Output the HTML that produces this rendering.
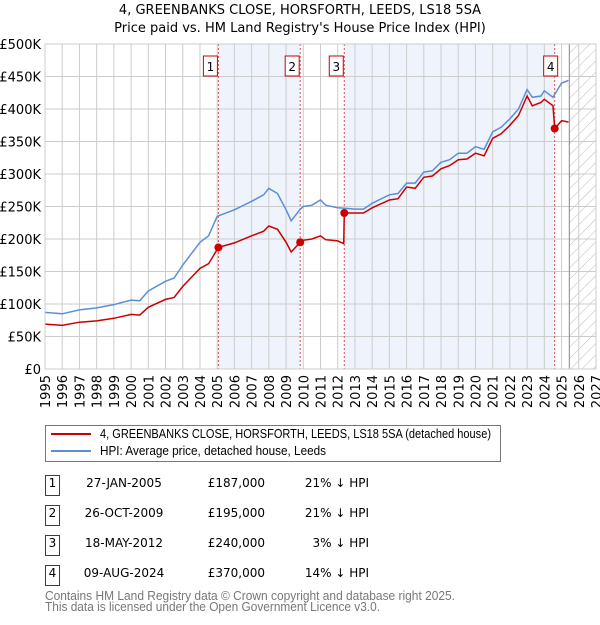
<!DOCTYPE html>
<html><head><meta charset="utf-8"><style>
body{margin:0;background:#fff;font-family:"Liberation Sans","DejaVu Sans",sans-serif;}
svg text{font-family:"DejaVu Sans","Liberation Sans",sans-serif;}
svg text.lib{font-family:"Liberation Sans","DejaVu Sans",sans-serif;}
</style></head><body>
<svg width="600" height="620" viewBox="0 0 600 620" xmlns="http://www.w3.org/2000/svg">
<defs>
<pattern id="hatch" width="8" height="8" patternUnits="userSpaceOnUse" patternTransform="rotate(45)">
<line x1="0" y1="0" x2="0" y2="8" stroke="#bbb" stroke-width="1"/>
</pattern>
</defs>
<text x="300" y="14" text-anchor="middle" font-size="13" fill="#000">4, GREENBANKS CLOSE, HORSFORTH, LEEDS, LS18 5SA</text>
<text x="300" y="32" text-anchor="middle" font-size="13" fill="#000">Price paid vs. HM Land Registry's House Price Index (HPI)</text>
<g id="plot"></g>
<g id="legend">
<rect x="45.5" y="425.5" width="455" height="36" fill="#fff" stroke="#777"/>
<line x1="51" y1="434" x2="91" y2="434" stroke="#cc0000" stroke-width="2"/>
<text class="lib" x="100" y="438" font-size="13" textLength="391" lengthAdjust="spacingAndGlyphs">4, GREENBANKS CLOSE, HORSFORTH, LEEDS, LS18 5SA (detached house)</text>
<line x1="51" y1="451" x2="91" y2="451" stroke="#5b8fd4" stroke-width="2"/>
<text class="lib" x="100" y="455" font-size="13" textLength="226" lengthAdjust="spacingAndGlyphs">HPI: Average price, detached house, Leeds</text>
</g>
<g id="table"></g>
<text class="lib" x="45" y="600" font-size="13" fill="#777" textLength="410" lengthAdjust="spacingAndGlyphs">Contains HM Land Registry data © Crown copyright and database right 2025.</text>
<text class="lib" x="45" y="611" font-size="13" fill="#777" textLength="335" lengthAdjust="spacingAndGlyphs">This data is licensed under the Open Government Licence v3.0.</text>
</svg>
<script>
const hpiYears=[1995,1996,1997,1998,1999,2000,2000.5,2001,2002,2002.5,2003,2004,2004.5,2005,2006,2007,2007.7,2008,2008.5,2009,2009.3,2009.8,2010,2010.5,2011,2011.3,2012,2012.5,2013,2013.5,2014,2015,2015.5,2016,2016.5,2017,2017.5,2018,2018.5,2019,2019.5,2020,2020.5,2021,2021.5,2022,2022.5,2023,2023.3,2023.8,2024,2024.5,2025,2025.4];
const hpiValues=[87,85,91,94,99,106,105,120,135,140,160,195,205,235,245,258,268,278,270,245,228,245,250,252,260,252,248,247,246,246,255,268,270,286,286,303,305,318,322,332,332,342,338,365,372,385,400,430,418,420,428,418,440,444];
const redYears=[1995,1996,1997,1998,1999,2000,2000.5,2001,2002,2002.5,2003,2004,2004.5,2005.07,2006,2007,2007.7,2008,2008.5,2009,2009.3,2009.82,2010,2010.5,2011,2011.3,2012,2012.35,2012.38,2013,2013.5,2014,2015,2015.5,2016,2016.5,2017,2017.5,2018,2018.5,2019,2019.5,2020,2020.5,2021,2021.5,2022,2022.5,2023,2023.3,2023.8,2024,2024.5,2024.6,2025,2025.4];
const redValues=[69,67,72,74,78,84,83,95,107,110,127,155,162,187,194,205,212,220,215,195,180,195,198,200,205,199,197,193,240,240,240,248,260,262,280,278,295,297,308,313,322,323,332,328,355,362,375,390,420,405,410,415,405,370,382,380];
const saleYears=[2005.07,2009.82,2012.38,2024.6];
const salePrices=[187,195,240,370];
const saleLabels=["1","2","3","4"];
const saleDates=["27-JAN-2005","26-OCT-2009","18-MAY-2012","09-AUG-2024"];
const salePriceText=["£187,000","£195,000","£240,000","£370,000"];
const saleDiff=["21% ↓ HPI","21% ↓ HPI","3% ↓ HPI","14% ↓ HPI"];
const yTicks=[0,50,100,150,200,250,300,350,400,450,500];
const yTickLabels=["£0","£50K","£100K","£150K","£200K","£250K","£300K","£350K","£400K","£450K","£500K"];
const xTicks=[1995,1996,1997,1998,1999,2000,2001,2002,2003,2004,2005,2006,2007,2008,2009,2010,2011,2012,2013,2014,2015,2016,2017,2018,2019,2020,2021,2022,2023,2024,2025,2026,2027];

const NS="http://www.w3.org/2000/svg";
const X0=45,X1=596,Y0=369,Y1=44;
const xs=y=>X0+(y-1995)/(2027-1995)*(X1-X0);
const ys=v=>Y0-v/500*(Y0-Y1);
function mk(tag,attrs,parent){const e=document.createElementNS(NS,tag);for(const k in attrs)e.setAttribute(k,attrs[k]);parent.appendChild(e);return e;}
const plot=document.getElementById('plot');
const s1=mk('rect',{x:xs(saleYears[0]),y:Y1,width:xs(saleYears[1])-xs(saleYears[0]),height:Y0-Y1,fill:'#eef3fc'},plot);


const s2=mk('rect',{x:xs(saleYears[2]),y:Y1,width:xs(saleYears[3])-xs(saleYears[2]),height:Y0-Y1,fill:'#eef3fc'},plot);


const hx=xs(2025.45);
const h=mk('rect',{x:hx,y:Y1,width:X1-hx,height:Y0-Y1,fill:'url(#hatch)'},plot);


yTicks.forEach((t,i)=>{
 const l=mk('line',{x1:X0,x2:X1,y1:ys(t),y2:ys(t),stroke:'#ccc','stroke-width':1},plot);
 
 
 const tx=mk('text',{x:X0-4,y:ys(t)+5,'text-anchor':'end','font-size':13},plot);
 tx.textContent=yTickLabels[i];
 
 
});
xTicks.forEach(t=>{
 const l=mk('line',{x1:xs(t),x2:xs(t),y1:Y1,y2:Y0,stroke:'#ccc','stroke-width':1},plot);
 
 
 const tx=mk('text',{x:0,y:0,'text-anchor':'end','font-size':13,transform:`translate(${xs(t)+5},${Y0+6}) rotate(-90)`},plot);
 tx.textContent=t;
 
 
});
const vl=mk('line',{x1:hx,x2:hx,y1:Y1,y2:Y0,stroke:'#888','stroke-width':1},plot);


saleYears.forEach((y,i)=>{
 const l=mk('line',{x1:xs(y),x2:xs(y),y1:Y1,y2:Y0,stroke:'#e05050','stroke-width':1,'stroke-dasharray':'2,2'},plot);
 
 
});
function pts(xa,va){return xa.map((x,i)=>xs(x).toFixed(1)+','+ys(va[i]).toFixed(1)).join(' ');}
const hp=mk('polyline',{points:pts(hpiYears,hpiValues),fill:'none',stroke:'#5b8fd4','stroke-width':1.5},plot);


const rp=mk('polyline',{points:pts(redYears,redValues),fill:'none',stroke:'#cc0000','stroke-width':1.5},plot);


saleYears.forEach((y,i)=>{
 const c=mk('circle',{cx:xs(y),cy:ys(salePrices[i]),r:4,fill:'#cc0000'},plot);
 
 
 const bx=xs(y)-(i==3?4:8)-7;
 const b=mk('rect',{x:bx,y:56,width:14,height:20,fill:'#fff',stroke:'#cc0000'},plot);
 
 
 const t=mk('text',{x:bx+7,y:71,'text-anchor':'middle','font-size':12},plot);
 t.textContent=saleLabels[i];
 
 
});
const ax=mk('rect',{x:X0,y:Y1,width:X1-X0,height:Y0-Y1,fill:'none',stroke:'#ccc'},plot);


const tb=document.getElementById('table');
saleLabels.forEach((lab,i)=>{
 const top=475+i*30;
 const b=mk('rect',{x:45.5,y:top+0.5,width:14,height:20,fill:'#fff',stroke:'#cc0000'},tb);
 
 
 const t=[[52.5,'middle',lab,'table-index'],[124,'middle',saleDates[i],'table-date'],[265,'end',salePriceText[i],'table-price'],[369,'end',saleDiff[i],'table-hpi-diff']];
 t.forEach(a=>{const e=mk('text',{x:a[0],y:top+12,'text-anchor':a[1],'font-size':12},tb);e.textContent=a[2];
 
 });
});
</script>
</body></html>
